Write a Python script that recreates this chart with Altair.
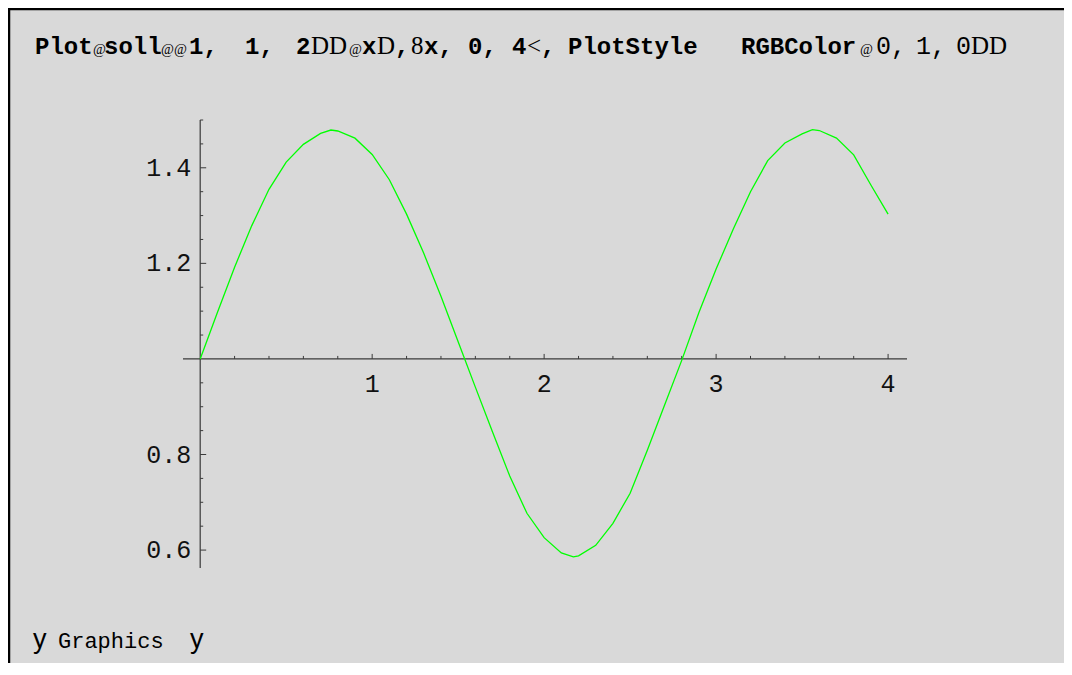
import altair as alt
import pandas as pd

# ---------------- data ----------------
curve_x = [0.0, 0.1, 0.2, 0.3, 0.4, 0.5, 0.6, 0.7, 0.76, 0.8, 0.9, 1.0, 1.1, 1.2, 1.3,
           1.4, 1.5, 1.6, 1.7, 1.8, 1.9, 2.0, 2.1, 2.17, 2.2, 2.3, 2.4, 2.5, 2.6, 2.7,
           2.8, 2.9, 3.0, 3.1, 3.2, 3.3, 3.4, 3.5, 3.56, 3.6, 3.7, 3.8, 3.9, 4.0]
curve_y = [1.000, 1.097, 1.192, 1.279, 1.355, 1.412, 1.449, 1.472, 1.479, 1.477, 1.462,
           1.428, 1.375, 1.303, 1.221, 1.131, 1.036, 0.941, 0.847, 0.755, 0.677, 0.626,
           0.594, 0.586, 0.588, 0.610, 0.656, 0.719, 0.809, 0.903, 0.997, 1.097, 1.188,
           1.272, 1.350, 1.415, 1.452, 1.471, 1.480, 1.478, 1.462, 1.427, 1.364, 1.303]

x_major = [1, 2, 3, 4]
x_major_labels = ["1", "2", "3", "4"]
x_minor = [0.2, 0.4, 0.6, 0.8, 1.2, 1.4, 1.6, 1.8, 2.2, 2.4, 2.6, 2.8, 3.2, 3.4, 3.6, 3.8]
y_major = [0.6, 0.8, 1.2, 1.4]
y_major_labels = ["0.6", "0.8", "1.2", "1.4"]
y_minor = [0.65, 0.7, 0.75, 0.85, 0.9, 0.95, 1.05, 1.1, 1.15, 1.25, 1.3, 1.35, 1.45, 1.5]

x_domain = [-0.1, 4.11]
y_domain = [0.5625, 1.5]
x_cross = 1.0   # value of y where the x axis sits
y_cross = 0.0   # value of x where the y axis sits

# (text, style) pieces of the input line
title_tokens = [("Plot", "b"), ("@", "a"), ("soll", "b"), ("@@", "a"), ("1,", "b"),
                ("1,", "b"), ("2", "b"), ("DD", "s"), ("@", "a"), ("x", "b"), ("D", "s"),
                (",", "b"), ("8", "s"), ("x,", "b"), ("0,", "b"), ("4", "b"), ("<", "s"),
                (",", "b"), ("PlotStyle", "b"), ("RGBColor", "b"), ("@", "a"),
                ("0,", "m"), ("1,", "m"), ("0", "m"), ("DD", "s")]
footer_tokens = [("y", "y"), ("Graphics", "g"), ("y", "y")]

# ---------------- layout (page pixels) ----------------
title_pos = [35, 93, 104, 161, 189, 245, 296, 311, 349, 362, 377, 395, 411, 424, 468,
             512, 527, 541, 568, 741, 860, 876, 916, 956, 971]
footer_pos = [33, 58, 190]
TITLE_BASE = 54
FOOTER_BASE = 648

W, H = 724, 448
PL, PT = 175, 112
TOTAL_W, TOTAL_H = 1056, 655
PR, PB = TOTAL_W - PL - W, TOTAL_H - PT - H

BG = "#d9d9d9"
AX = "#3a3a3a"
MONO = "Liberation Mono"
SERIF = "Liberation Serif"
SANS = "Liberation Sans"

styles = {
    "b": dict(font=MONO, fontSize=24, fontWeight="bold"),
    "m": dict(font=MONO, fontSize=25, fontWeight="normal"),
    "s": dict(font=SERIF, fontSize=25, fontWeight="normal"),
    "a": dict(font=SERIF, fontSize=14, fontWeight="normal"),
    "g": dict(font=MONO, fontSize=22, fontWeight="normal"),
    "y": dict(font=SANS, fontSize=27, fontWeight="normal"),
}

xs = alt.Scale(domain=x_domain, nice=False, zero=False)
ys = alt.Scale(domain=y_domain, nice=False, zero=False)

anchor = pd.DataFrame({"a": [0]})


def page_text(s, px, py, style):
    return alt.Chart(anchor).mark_text(
        text=s, align="left", baseline="alphabetic", color="black", **styles[style]
    ).encode(x=alt.value(px - 8 - PL), y=alt.value(py - 8 - PT))


df = pd.DataFrame({"x": curve_x, "y": curve_y})

curve = alt.Chart(df).mark_line(color="#00ff00", strokeWidth=1.3).encode(
    x=alt.X("x:Q", scale=xs, axis=None),
    y=alt.Y("y:Q", scale=ys, axis=None),
)

x_axis_line = alt.Chart(anchor).mark_rule(color=AX, strokeWidth=1.2).encode(
    x=alt.XDatum(x_domain[0], type="quantitative", scale=xs, axis=None),
    x2=alt.X2Datum(x_domain[1]),
    y=alt.YDatum(x_cross, type="quantitative", scale=ys, axis=None),
)
y_axis_line = alt.Chart(anchor).mark_rule(color=AX, strokeWidth=1.2).encode(
    x=alt.XDatum(y_cross, type="quantitative", scale=xs, axis=None),
    y=alt.YDatum(y_domain[0], type="quantitative", scale=ys, axis=None),
    y2=alt.Y2Datum(y_domain[1]),
)


def x_ticks(vals, length):
    return alt.Chart(pd.DataFrame({"t": vals})).mark_rule(
        color=AX, strokeWidth=1, y2Offset=-length
    ).encode(
        x=alt.X("t:Q", scale=xs, axis=None),
        y=alt.YDatum(x_cross, type="quantitative", scale=ys, axis=None),
        y2=alt.Y2Datum(x_cross),
    )


def y_ticks(vals, length):
    return alt.Chart(pd.DataFrame({"t": vals})).mark_rule(
        color=AX, strokeWidth=1, x2Offset=length
    ).encode(
        y=alt.Y("t:Q", scale=ys, axis=None),
        x=alt.XDatum(y_cross, type="quantitative", scale=xs, axis=None),
        x2=alt.X2Datum(y_cross),
    )


x_labels = alt.Chart(pd.DataFrame({"t": x_major, "lab": x_major_labels})).mark_text(
    font=MONO, fontSize=25, color="#111111", align="center", baseline="middle", dy=25
).encode(
    x=alt.X("t:Q", scale=xs, axis=None),
    y=alt.YDatum(x_cross, type="quantitative", scale=ys, axis=None),
    text="lab:N",
)
y_labels = alt.Chart(pd.DataFrame({"t": y_major, "lab": y_major_labels})).mark_text(
    font=MONO, fontSize=25, color="#111111", align="right", baseline="middle", dx=-9
).encode(
    y=alt.Y("t:Q", scale=ys, axis=None),
    x=alt.XDatum(y_cross, type="quantitative", scale=xs, axis=None),
    text="lab:N",
)

border_top = alt.Chart(anchor).mark_rule(color="black", strokeWidth=2.5).encode(
    x=alt.value(-PL), x2=alt.value(TOTAL_W - PL), y=alt.value(-PT + 1)
)
border_left = alt.Chart(anchor).mark_rule(color="black", strokeWidth=2.5).encode(
    x=alt.value(-PL + 1), y=alt.value(-PT), y2=alt.value(TOTAL_H - PT)
)

texts = [page_text(s, px, TITLE_BASE, st) for (s, st), px in zip(title_tokens, title_pos)]
texts += [page_text(s, px, FOOTER_BASE, st) for (s, st), px in zip(footer_tokens, footer_pos)]

chart = alt.layer(
    border_top, border_left,
    x_axis_line, y_axis_line,
    x_ticks(x_major, 5), x_ticks(x_minor, 3),
    y_ticks(y_major, 6), y_ticks(y_minor, 3),
    x_labels, y_labels,
    curve,
    *texts,
).properties(
    width=W, height=H,
    padding={"left": PL, "top": PT, "right": PR, "bottom": PB},
    autosize=alt.AutoSizeParams(type="none"),
).configure(background=BG).configure_view(stroke=None)

chart.save("out.html", embed_options={"renderer": "svg", "actions": False})
